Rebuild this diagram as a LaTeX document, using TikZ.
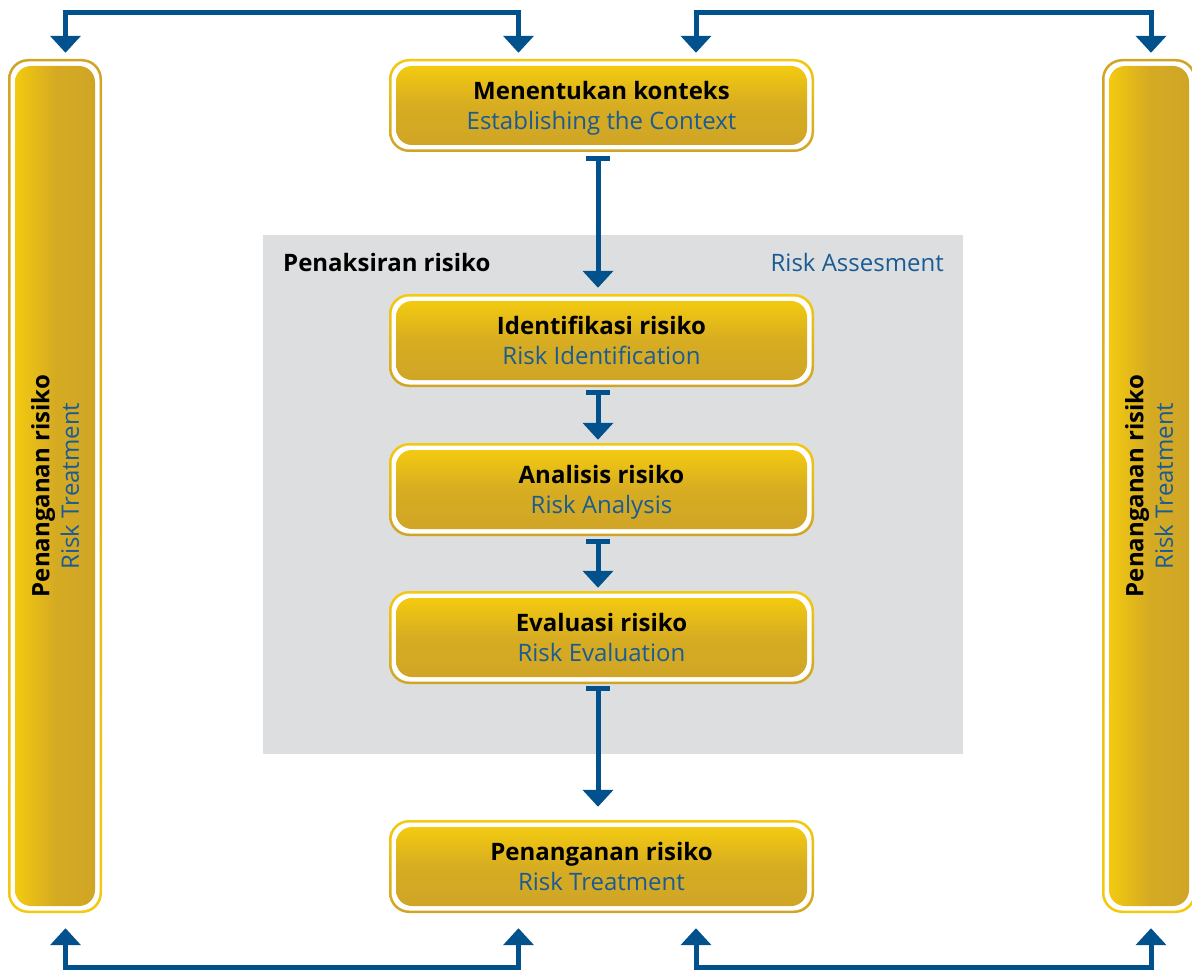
\documentclass[tikz,border=0pt]{standalone}
\usepackage{fontspec}
\setmainfont{Open Sans}
\usetikzlibrary{arrows.meta}

\definecolor{gy}{HTML}{F3CA10}
\definecolor{gg}{HTML}{D0A526}
\definecolor{tblue}{HTML}{1A5B94}
\definecolor{ablue}{HTML}{00518C}
\definecolor{panel}{HTML}{DDDEE0}

\tikzset{
  goldbox/.style={rounded corners=20pt, top color=gy, bottom color=gg,
    minimum width=425pt, minimum height=93pt, inner sep=0pt, align=center,
    text depth=0pt, font=\fontsize{24}{29.5}\selectfont,
    path picture={
      \fill[white, rounded corners=18pt]
        ([shift={(2.5pt,-2.5pt)}]path picture bounding box.north west) rectangle
        ([shift={(-2.5pt,2.5pt)}]path picture bounding box.south east);
      \shade[rounded corners=16pt, top color=gy, bottom color=gg, middle color=gg!80!gy]
        ([shift={(7pt,-7pt)}]path picture bounding box.north west) rectangle
        ([shift={(-7pt,7pt)}]path picture bounding box.south east);
    }},
  sidebar/.style={rounded corners=20pt, top color=gg, bottom color=gy,
    minimum width=94pt, minimum height=854pt, inner sep=0pt,
    path picture={
      \fill[white, rounded corners=18pt]
        ([shift={(2.5pt,-2.5pt)}]path picture bounding box.north west) rectangle
        ([shift={(-2.5pt,2.5pt)}]path picture bounding box.south east);
      \shade[rounded corners=16pt, left color=gy, right color=gg, middle color=gg!85!gy]
        ([shift={(7pt,-7pt)}]path picture bounding box.north west) rectangle
        ([shift={(-7pt,7pt)}]path picture bounding box.south east);
    }},
  sidetext/.style={rotate=90, align=center, inner sep=0pt, text depth=0pt,
    font=\fontsize{24}{29.5}\selectfont},
  linkarrow/.style={ablue, line width=5pt,
    {Bar[width=24pt]}-{Triangle[width=30pt,length=17pt]}},
  cycleline/.style={ablue, line width=5pt, line join=miter,
    {Triangle[width=30pt,length=17pt]}-{Triangle[width=30pt,length=17pt]}},
}

\newcommand{\bl}[1]{\textcolor{tblue}{#1}}

\begin{document}
\begin{tikzpicture}[x=1pt,y=-1pt]
  \useasboundingbox (0,0) rectangle (1192,971);

  % risk assessment panel
  \node[fill=panel, minimum width=700pt, minimum height=519pt, inner sep=0pt,
        anchor=north west] (panel) at (263,235) {};
  \node[anchor=base west, inner sep=0pt, font=\fontsize{24}{29.5}\selectfont\bfseries]
        (paneltitle) at (283,271) {Penaksiran risiko};
  \node[anchor=base east, inner sep=0pt, font=\fontsize{24}{29.5}\selectfont, text=tblue]
        (panelsub) at (944,271) {Risk Assesment};

  % process boxes
  \node[goldbox] (ctx) at (601.5,105.5)
    {\textbf{Menentukan konteks}\\ \bl{Establishing the Context}};
  \node[goldbox] (ident) at (601.5,340.5)
    {\textbf{Identifikasi risiko}\\ \bl{Risk Identification}};
  \node[goldbox] (anal) at (601.5,489.5)
    {\textbf{Analisis risiko}\\ \bl{Risk Analysis}};
  \node[goldbox] (eval) at (601.5,637.5)
    {\textbf{Evaluasi risiko}\\ \bl{Risk Evaluation}};
  \node[goldbox] (treat) at (601.5,866.5)
    {\textbf{Penanganan risiko}\\ \bl{Risk Treatment}};

  % side bars
  \node[sidebar] (lb) at (55,486) {};
  \node[sidetext] (lbt) at (lb.center) {\textbf{Penanganan risiko}\\ \bl{Risk Treatment}};
  \node[sidebar] (rb) at (1149,486) {};
  \node[sidetext] (rbt) at (rb.center) {\textbf{Penanganan risiko}\\ \bl{Risk Treatment}};

  % main flow
  \draw[linkarrow, shorten <=4pt, shorten >=6pt]
    ([xshift=-3.5pt]ctx.south) -- ([xshift=-3.5pt]ident.north);
  \draw[linkarrow, shorten <=3pt, shorten >=3pt]
    ([xshift=-3.5pt]ident.south) -- ([xshift=-3.5pt]anal.north);
  \draw[linkarrow, shorten <=3pt, shorten >=3pt]
    ([xshift=-3.5pt]anal.south) -- ([xshift=-3.5pt]eval.north);
  \draw[linkarrow, shorten <=2pt, shorten >=13pt]
    ([xshift=-3.5pt]eval.south) -- ([xshift=-3.5pt]treat.north);

  % feedback loops
  \coordinate (ta) at (65.5,12.5);
  \coordinate (tb) at (518.5,12.5);
  \coordinate (tc) at (696,12.5);
  \coordinate (td) at (1151,12.5);
  \coordinate (ba) at (65.5,967.5);
  \coordinate (bb) at (518.5,967.5);
  \coordinate (bc) at (696,967.5);
  \coordinate (bd) at (1151,967.5);

  \draw[cycleline, shorten <=6pt, shorten >=6pt]
    (ta |- lb.north) -- (ta) -- (tb) -- (tb |- ctx.north);
  \draw[cycleline, shorten <=6pt, shorten >=6pt]
    (tc |- ctx.north) -- (tc) -- (td) -- (td |- rb.north);
  \draw[cycleline, shorten <=15pt, shorten >=15pt]
    (ba |- lb.south) -- (ba) -- (bb) -- (bb |- treat.south);
  \draw[cycleline, shorten <=15pt, shorten >=15pt]
    (bc |- treat.south) -- (bc) -- (bd) -- (bd |- rb.south);
\end{tikzpicture}
\end{document}
